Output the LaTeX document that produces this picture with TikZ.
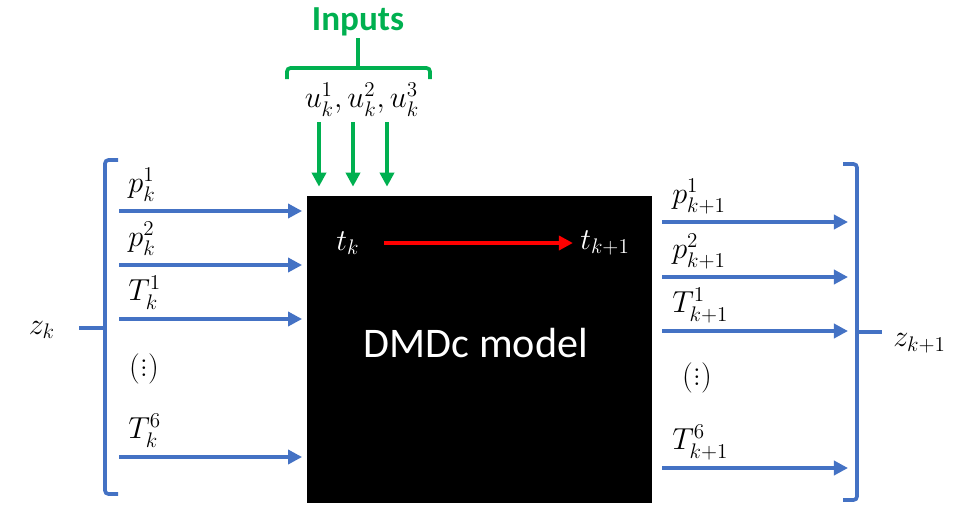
\documentclass[tikz,border=0pt]{standalone}
\usepackage{amsmath,amssymb}
\usepackage{fontspec}
\newfontfamily\carlito{Carlito}
\usepackage{xcolor}
\usetikzlibrary{positioning,arrows.meta,shadows,calc}
\definecolor{flowblue}{HTML}{4472C4}
\definecolor{ctrlgreen}{HTML}{00B050}

\begin{document}
\begin{tikzpicture}[x=0.02cm,y=-0.02cm,
  flow/.style={draw=flowblue,line width=2.1pt,-{Triangle[length=8pt,width=8pt]}},
  ctrl/.style={draw=ctrlgreen,line width=2.1pt,-{Triangle[length=8pt,width=8pt]}},
  brace/.style={draw=flowblue,line width=2.1pt,rounded corners=2pt},
  lab/.style={font=\fontsize{18.5}{22}\selectfont,inner sep=0pt}]
  \useasboundingbox (0,0) rectangle (954,511);
  % model box
  \node[draw=white,line width=2.8pt,fill=black,inner sep=0pt,
        minimum width=7cm,minimum height=6.24cm,
        drop shadow={shadow xshift=0.5pt,shadow yshift=-0.5pt,shadow scale=1.012,fill=gray!60,opacity=0.6}]
        (dmdc) at (479.5,349.5) {};
  \node[font=\carlito\fontsize{24}{28}\selectfont,text=white] (title) at (476,343) {DMDc model};
  \node[lab,text=white] (tk) at (348,243) {$t_k$};
  \node[lab,text=white] (tk1) at (605,243) {$t_{k+1}$};
  \draw[draw=red,line width=2.1pt,-{Triangle[length=8pt,width=8pt]},
        shorten <=14pt,shorten >=4pt] (tk.east) -- (tk1.west);
  % inputs
  \node[font=\carlito\bfseries\fontsize{20}{24}\selectfont,text=ctrlgreen] (inputs) at (358,22) {Inputs};
  \draw[draw=ctrlgreen,line width=2.1pt,rounded corners=2pt]
    (287,79) -- (287,68) -- (430,68) -- (430,79);
  \draw[draw=ctrlgreen,line width=2.1pt] (358,68) -- (358,38);
  \node[lab] (uin) at (362,100) {$u_k^1,u_k^2,u_k^3$};
  \foreach \x [count=\i] in {319,353,387}{
    \coordinate (u\i) at (\x,122);
    \draw[ctrl,shorten >=2.5pt] (u\i) -- (u\i |- dmdc.north);
  }
  % states at k
  \draw[brace] (118,160) -- (105,160) -- (105,494) -- (118,494);
  \coordinate (lb) at (105,328);
  \draw[brace] (lb) -- ++(-26,0);
  \node[lab] (zk) at (42,330) {$z_k$};
  \foreach \y/\lab/\name in {211/p_k^1/p1,265/p_k^2/p2,319/T_k^1/t1,457/T_k^6/t6}{
    \coordinate (in\name) at (119,\y);
    \draw[flow] (in\name) -- (in\name -| dmdc.west);
    \node[lab,anchor=south west] (l\name) at ($(in\name)+(9,-9)$) {$\lab$};
  }
  \node[lab] (ldots) at (144,367) {$(\vdots)$};
  % states at k+1
  \draw[brace] (843,164) -- (857,164) -- (857,500) -- (843,500);
  \coordinate (rb) at (857,332);
  \draw[brace] (rb) -- ++(25,0);
  \node[lab,anchor=west] (zk1) at (893,343) {$z_{k+1}$};
  \foreach \y/\lab/\name in {222/p_{k+1}^1/p1,277/p_{k+1}^2/p2,331/T_{k+1}^1/t1,468/T_{k+1}^6/t6}{
    \coordinate (out\name) at (848,\y);
    \draw[flow,shorten <=3pt] (out\name -| dmdc.east) -- (out\name);
    \node[lab,anchor=south west] (r\name) at ($(out\name -| dmdc.east)+(15,-8)$) {$\lab$};
  }
  \node[lab] (rdots) at (697,376) {$(\vdots)$};
\end{tikzpicture}
\end{document}
